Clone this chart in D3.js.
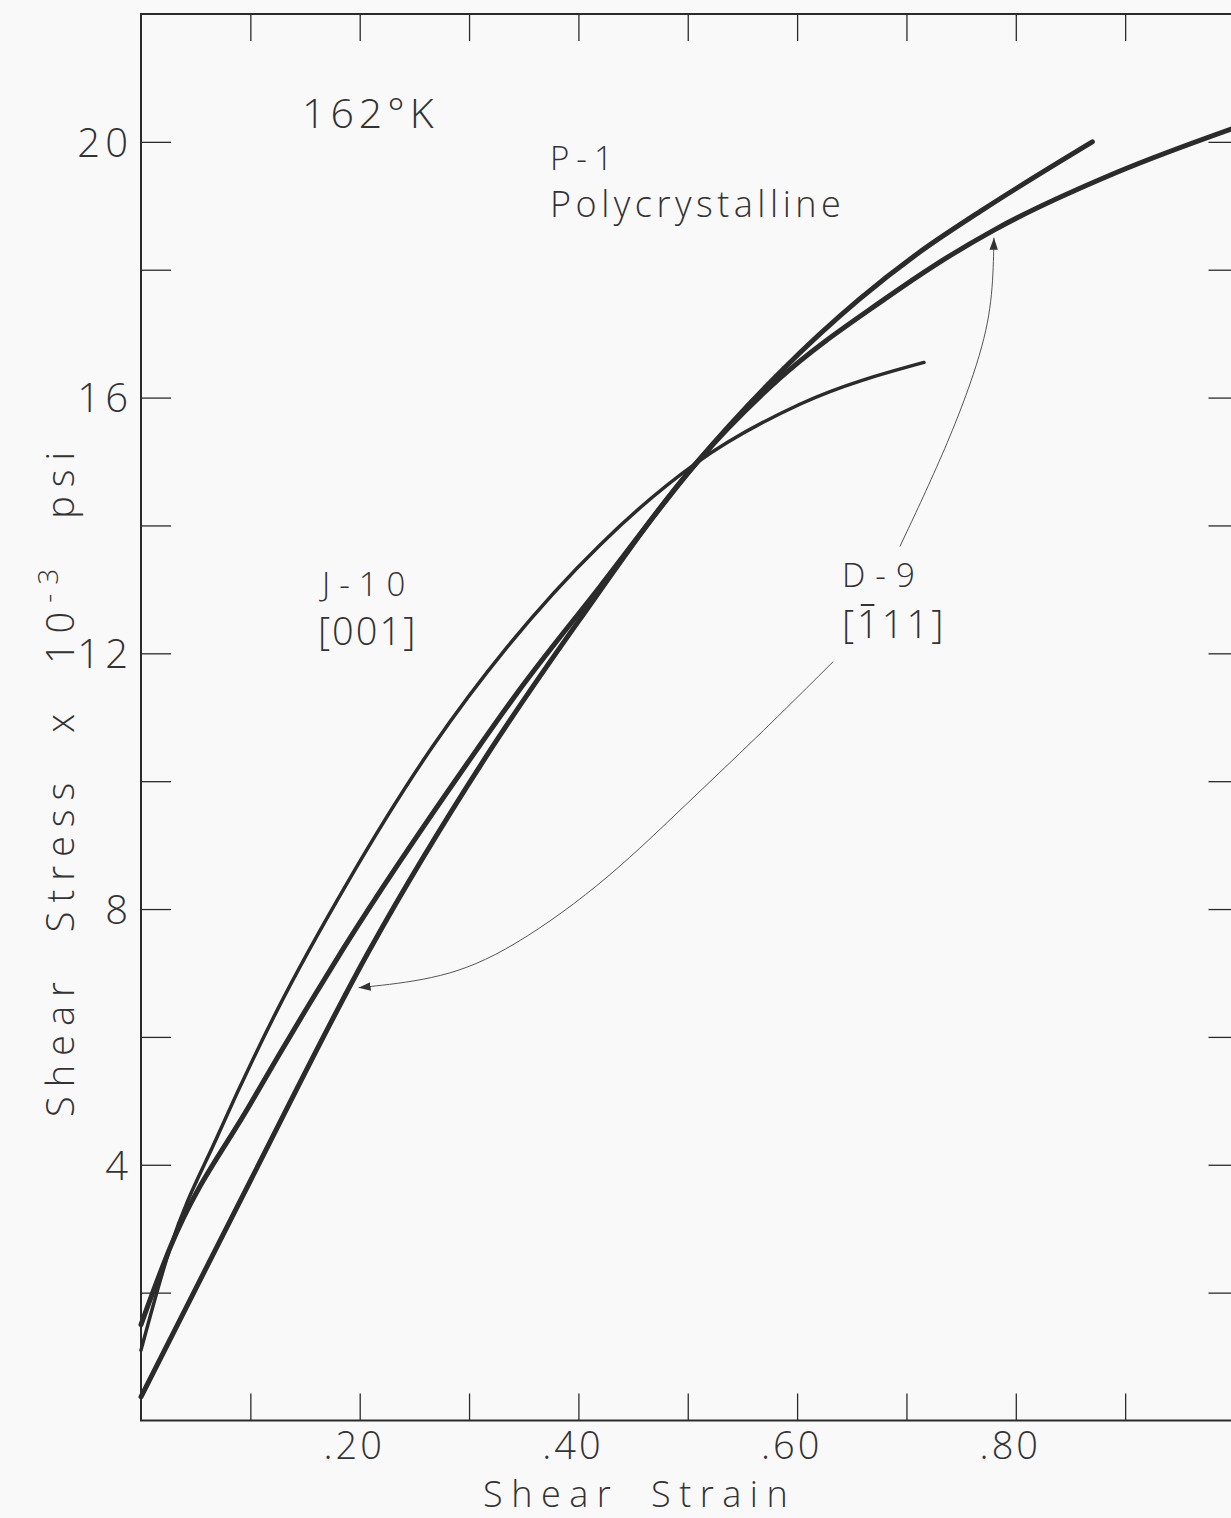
<!DOCTYPE html>
<html>
<head>
<meta charset="utf-8">
<script src="https://cdn.jsdelivr.net/npm/d3@7"></script>
<style>
    body { margin: 0; background: #faf9f9; }
    svg { display: block; background: #faf9f9; }
    text { font-family: 'Open Sans', 'DejaVu Sans', sans-serif; font-weight: 300; fill: #333; }
</style>
</head>
<body>
<svg id="chart" width="1231" height="1518"></svg>
<script>
// axis ticks
const xTicks = d3.range(1, 10).map(i => i / 10)
const xLabels = [0.2, 0.4, 0.6, 0.8]
const yTicks = d3.range(2, 22, 2)
const yLabels = [4, 8, 12, 16, 20]

// curves: [shear strain, shear stress x 10^-3 psi]
const j10 = [
    [0, 1.1], [0.027, 2.72], [0.07, 4.45], [0.124, 6.4], [0.19, 8.45],
    [0.267, 10.55], [0.335, 12.1], [0.42, 13.7], [0.508, 14.98],
    [0.603, 15.9], [0.716, 16.55]
]
const p1 = [
    [0, 1.5], [0.027, 2.72], [0.1, 4.95], [0.157, 6.6], [0.185, 7.38],
    [0.307, 10.49], [0.344, 11.38], [0.42, 13.05], [0.508, 14.98],
    [0.584, 16.39], [0.657, 17.54], [0.71, 18.25], [0.77, 18.94], [0.87, 20.0]
]
const d9 = [
    [0, 0.37], [0.1, 3.75], [0.209, 7.36], [0.32, 10.5], [0.4, 12.5],
    [0.508, 14.98], [0.584, 16.3], [0.68, 17.54], [0.724, 18.05],
    [0.78, 18.62], [0.892, 19.52], [0.997, 20.2]
]

// leader lines from the D-9 label
const leaderUp = [[0.694, 13.67], [0.74, 15.34], [0.77, 16.75], [0.779, 17.6], [0.78, 18.5]]
const leaderLeft = [
    [0.633, 11.87], [0.566, 10.73], [0.493, 9.55], [0.42, 8.35],
    [0.328, 7.25], [0.267, 6.89], [0.199, 6.77]
]

const margin = { top: 14, right: -3.5, bottom: 97.5, left: 141 }
const width = 1231 - margin.left - margin.right
const height = 1518 - margin.top - margin.bottom

const svg = d3.select('#chart')
const g = svg.append('g')
    .attr('transform', `translate(${margin.left},${margin.top})`)

const x = d3.scaleLinear().domain([0, 1]).range([0, width])
const y = d3.scaleLinear().domain([0, 22]).range([height, 0])

const ink = '#2b2b2b'
const fmtX = d => d3.format('.2f')(d).replace(/^0/, '')

// bottom axis
const gxb = g.append('g')
    .attr('transform', `translate(0,${height})`)
    .call(d3.axisBottom(x).tickValues(xTicks).tickSize(-27).tickPadding(12)
        .tickFormat(d => xLabels.some(v => Math.abs(v - d) < 1e-9) ? fmtX(d) : ''))
gxb.selectAll('text').attr('font-size', 38).attr('dx', -6).style('letter-spacing', '3px')

// top axis
g.append('g')
    .call(d3.axisTop(x).tickValues(xTicks).tickSize(-27).tickFormat(''))

// left axis
const gyl = g.append('g')
    .call(d3.axisLeft(y).tickValues(yTicks).tickSize(-30).tickPadding(8)
        .tickFormat(d => yLabels.includes(d) ? d : ''))
gyl.selectAll('text').attr('font-size', 40).attr('dy', '0.36em').style('letter-spacing', '5px')

// right axis
g.append('g')
    .attr('transform', `translate(${width},0)`)
    .call(d3.axisRight(y).tickValues(yTicks).tickSize(-26).tickFormat(''))

g.selectAll('.domain').remove()
g.selectAll('.tick line').attr('stroke', ink).attr('stroke-width', 1.3)

g.append('rect')
    .attr('width', width)
    .attr('height', height)
    .attr('fill', 'none')
    .attr('stroke', ink)
    .attr('stroke-width', 2)

// curves
const line = d3.line()
    .x(d => x(d[0]))
    .y(d => y(d[1]))
    .curve(d3.curveMonotoneX)

function drawCurve (data, w) {
    g.append('path').datum(data)
        .attr('d', line)
        .attr('fill', 'none')
        .attr('stroke', ink)
        .attr('stroke-width', w)
        .attr('stroke-linecap', 'round')
}
drawCurve(j10, 3.5)
drawCurve(p1, 5)
drawCurve(d9, 5)

// arrow marker
svg.append('defs').append('marker')
    .attr('id', 'arrow')
    .attr('viewBox', '0 0 10 10')
    .attr('refX', 10).attr('refY', 5)
    .attr('markerWidth', 12).attr('markerHeight', 12)
    .attr('markerUnits', 'userSpaceOnUse')
    .attr('orient', 'auto')
    .append('path')
    .attr('d', 'M0,1.5 L10,5 L0,8.5 Z')
    .attr('fill', '#333')

const lead = d3.line().x(d => x(d[0])).y(d => y(d[1])).curve(d3.curveBasis)
g.append('path').datum(leaderUp)
    .attr('d', lead).attr('fill', 'none').attr('stroke', '#555').attr('stroke-width', 1)
    .attr('marker-end', 'url(#arrow)')
g.append('path').datum(leaderLeft)
    .attr('d', lead).attr('fill', 'none').attr('stroke', '#555').attr('stroke-width', 1)
    .attr('marker-end', 'url(#arrow)')

// annotations
function label (txt, px, py, size, spacing) {
    return svg.append('text')
        .attr('x', px).attr('y', py)
        .attr('font-size', size)
        .style('letter-spacing', spacing + 'px')
        .text(txt)
}

label('162°K', 302, 128, 41, 5)
label('P-1', 550, 170, 33, 7)
label('Polycrystalline', 550, 217, 36, 4.5)
label('J-10', 322, 596, 33, 9)
label('[001]', 318, 645, 38, 2)
label('D-9', 842, 587, 33, 10)
const d9dir = label('[111]', 842, 638, 38, 3)

// bar over the first index of the direction
const ext = d9dir.node().getExtentOfChar(1)
svg.append('line')
    .attr('x1', ext.x + ext.width * 0.15)
    .attr('x2', ext.x + ext.width * 0.7)
    .attr('y1', 605)
    .attr('y2', 605)
    .attr('stroke', '#333')
    .attr('stroke-width', 2)

// axis titles
svg.append('text')
    .attr('x', margin.left + x(0.456))
    .attr('y', 1507)
    .attr('text-anchor', 'middle')
    .attr('font-size', 36)
    .style('letter-spacing', '8.5px')
    .style('word-spacing', '14px')
    .text('Shear Strain')

const yTitle = svg.append('text')
    .attr('transform', 'translate(74,780) rotate(-90)')
    .attr('text-anchor', 'middle')
    .attr('font-size', 38)
    .style('letter-spacing', '9px')
    .style('word-spacing', '22px')
yTitle.append('tspan').text('Shear Stress x 10')
yTitle.append('tspan').attr('dy', -16).attr('font-size', 28).text('-3')
yTitle.append('tspan').attr('dy', 16).text(' psi')
</script>
</body>
</html>
